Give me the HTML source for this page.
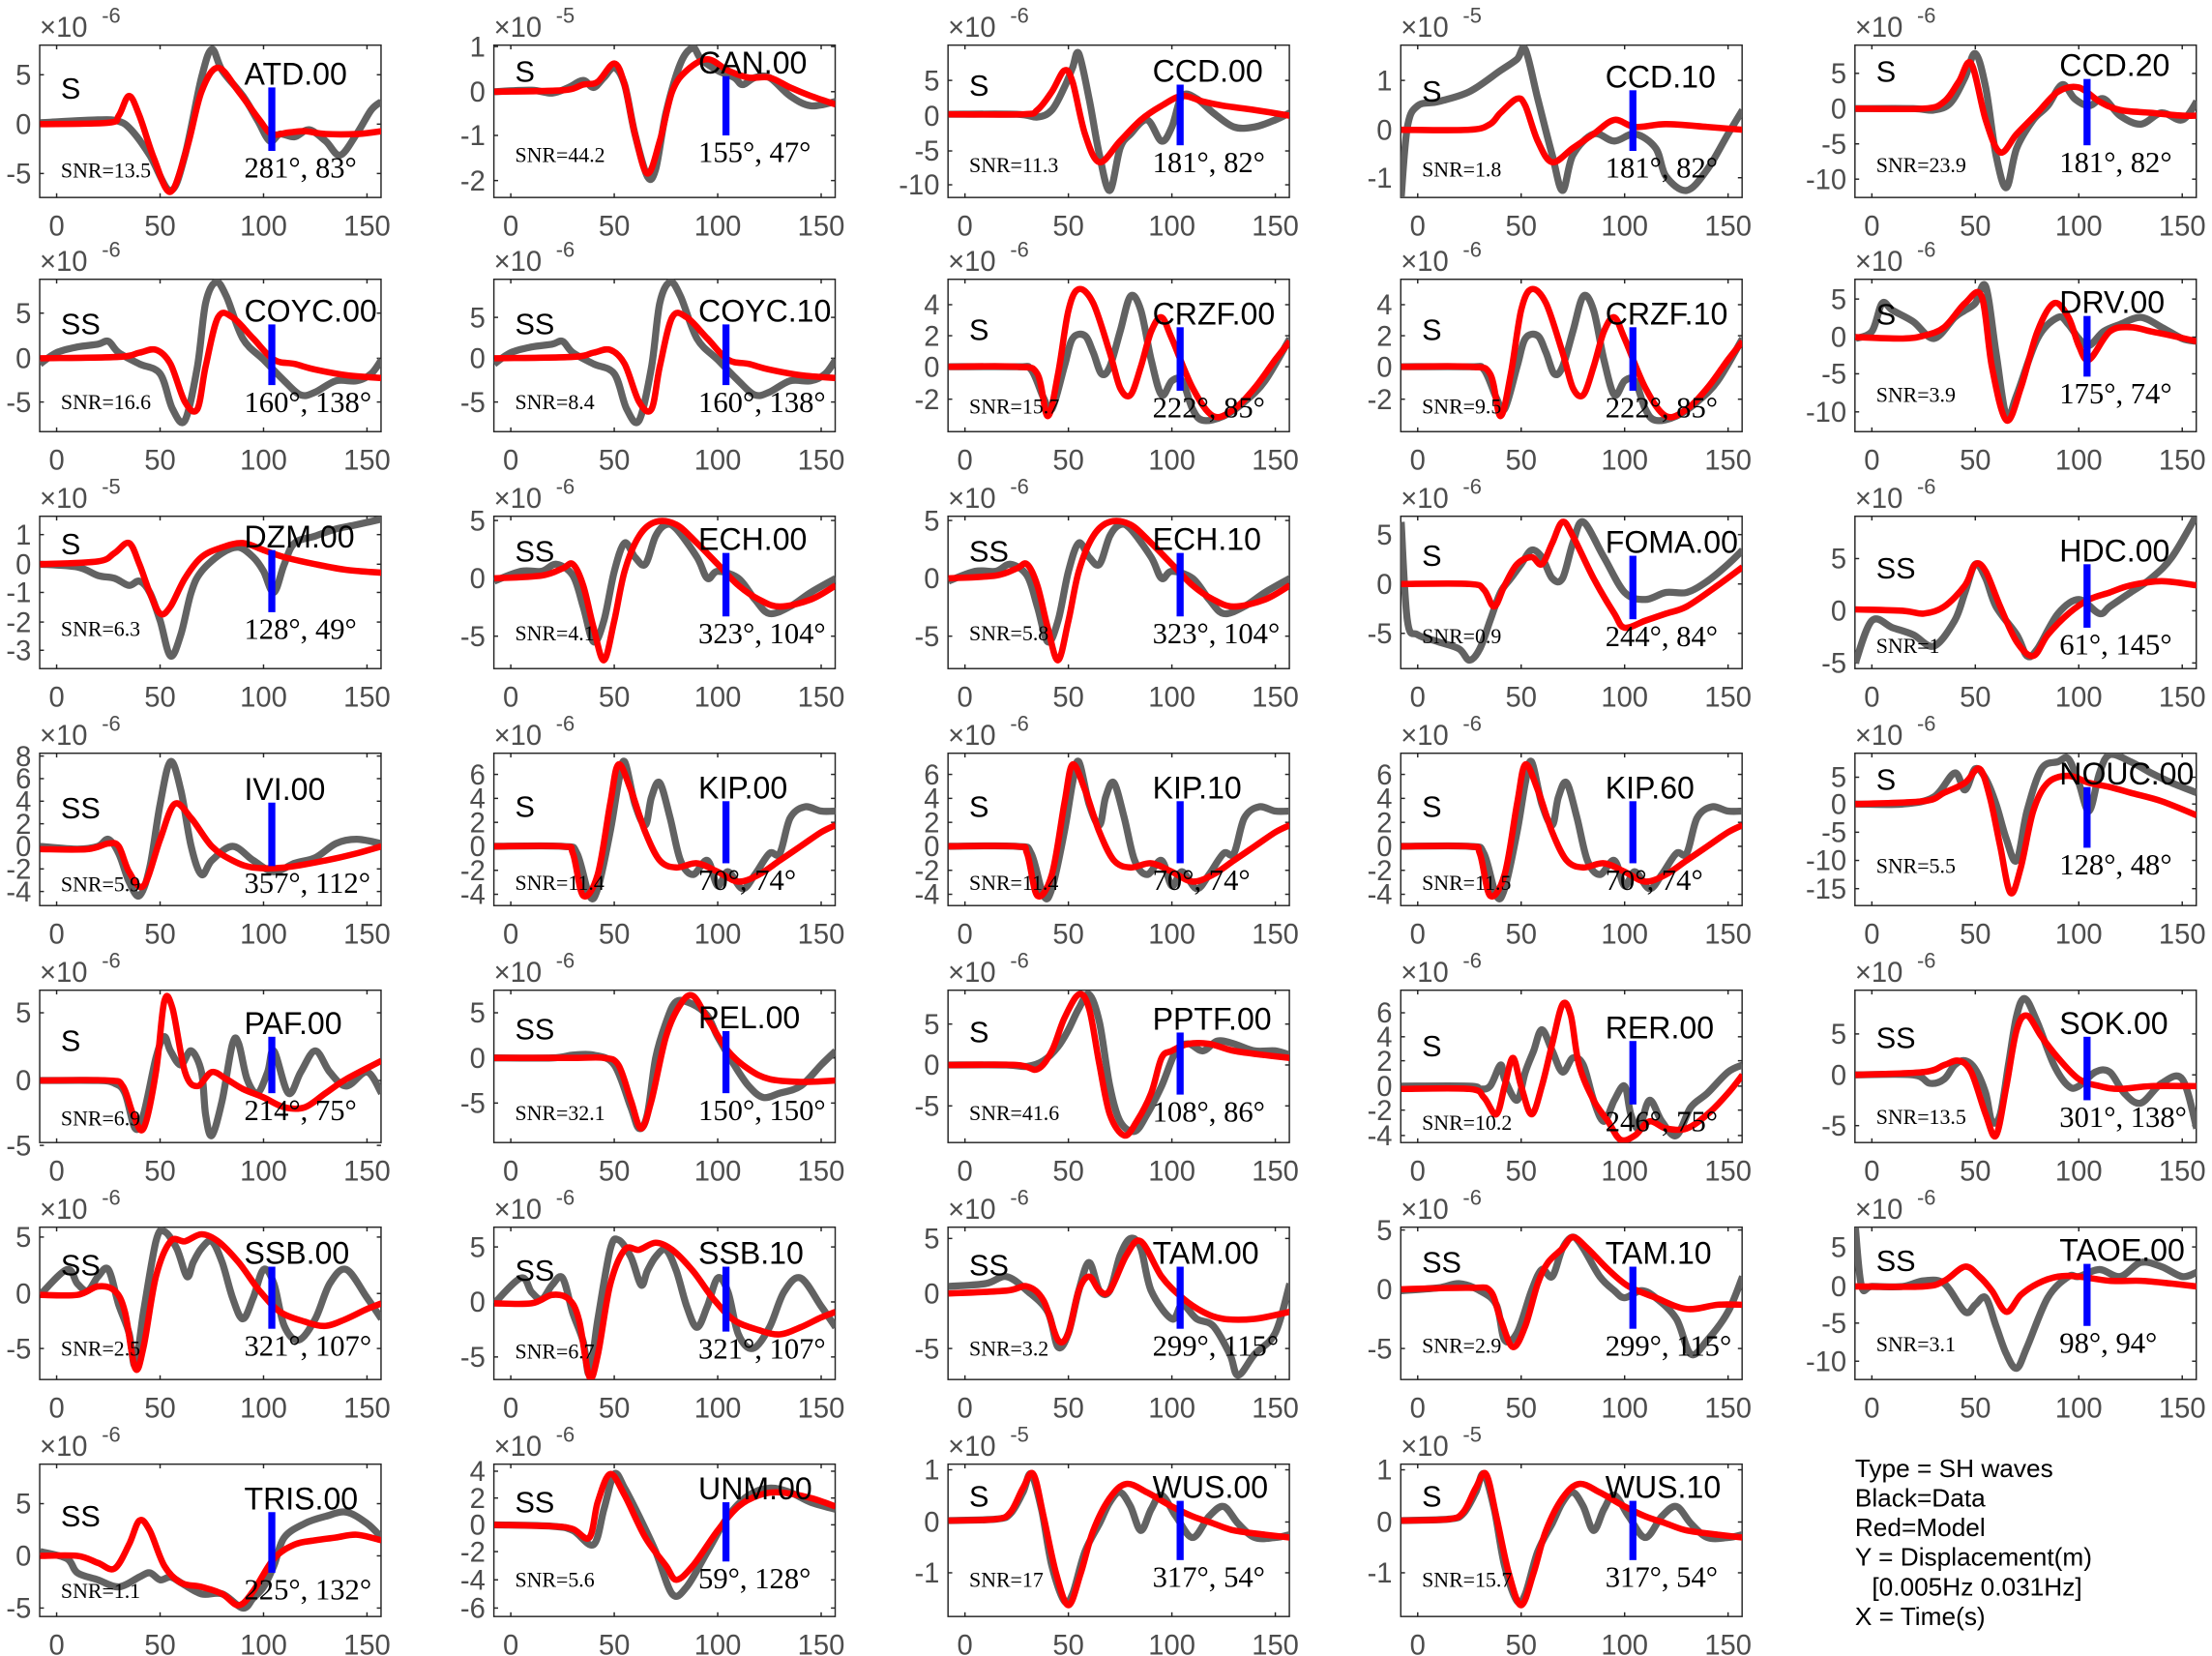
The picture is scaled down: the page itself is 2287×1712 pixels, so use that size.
<!DOCTYPE html>
<html><head><meta charset="utf-8"><style>
html,body{margin:0;padding:0;background:#fff;}
svg{display:block}
.tk{font-family:"Liberation Sans",sans-serif;font-size:20px;fill:#4d4d4d}
.st{font-family:"Liberation Sans",sans-serif;font-size:21px;fill:#000}
.sr{font-family:"Liberation Serif",serif;fill:#000}
</style></head><body>
<svg id="s" width="2287" height="1712" viewBox="0 0 1568 1174" xmlns="http://www.w3.org/2000/svg"></svg>
<script>
const cols=[28,350,672,993,1315],W=242,tops=[32,198,366,534,702,870,1038],H=108;
const P=[];
function add(o){P.push(o);}
// row1
add({e:-6,ph:'S',n:'ATD.00',snr:'13.5',a:'281°, 83°',tk:[[5,53],[0,88],[-5,123]],
g:[-8,87,20,85,30,86,36,92,45,110,55,135,62,110,70,55,75,35,80,50,90,68,97,85,103,100,108,95,115,97,122,92,130,100,137,110,145,95,152,78,157,72],
r:[-8,88,25,87,30,82,35,68,40,82,47,112,55,136,63,105,70,65,78,48,88,65,98,85,104,95,112,94,120,93,130,95,145,95,157,93],ly:52,py:62,sy:121,ay:119});
add({e:-5,ph:'S',n:'CAN.00',snr:'44.2',a:'155°, 47°',tk:[[1,33],[0,65],[-1,96],[-2,128]],
g:[-8,65,10,64,20,66,28,62,35,57,40,62,45,55,50,48,55,60,60,95,66,125,70,120,75,80,82,45,88,34,92,42,100,50,108,55,112,60,118,55,125,55,135,68,145,75,157,72],
r:[-8,65,25,64,35,60,42,58,50,45,55,60,60,95,66,123,72,100,78,65,85,50,95,42,105,50,115,55,125,55,135,62,145,68,157,74],ly:44,py:50,sy:110,ay:108});
add({e:-6,ph:'S',n:'CCD.00',snr:'11.3',a:'181°, 82°',tk:[[5,57],[0,82],[-5,107],[-10,131]],
g:[-8,81,25,81,35,83,42,78,48,62,52,48,55,38,60,70,65,110,70,135,75,105,80,95,88,85,95,100,100,90,105,68,112,70,120,80,130,90,140,90,150,85,157,80],
r:[-8,81,28,81,35,78,42,65,48,50,52,58,58,95,65,115,75,100,85,85,95,75,105,68,115,72,125,75,140,78,157,82],ly:50,py:60,sy:117,ay:115});
add({e:-5,ph:'S',n:'CCD.10',snr:'1.8',a:'181°, 82°',tk:[[1,57],[0,92],[-1,126]],
g:[-8,140,-5,90,0,75,10,72,25,65,40,50,48,42,52,35,58,70,65,110,70,135,75,110,85,95,95,100,105,95,115,105,120,125,130,135,140,120,150,95,157,78],
r:[-8,92,25,92,35,88,40,80,48,70,52,75,58,100,65,115,75,105,85,95,95,85,105,90,120,88,140,90,157,92],ly:54,py:64,sy:120,ay:119});
add({e:-6,ph:'S',n:'CCD.20',snr:'23.9',a:'181°, 82°',tk:[[5,52],[0,77],[-5,102],[-10,127]],
g:[-8,77,20,77,30,78,38,73,45,55,50,38,55,62,60,110,65,133,70,105,78,85,85,75,92,60,98,70,105,75,112,70,120,82,130,88,140,80,150,85,157,72],
r:[-8,77,25,77,35,72,42,58,48,45,55,85,62,108,70,95,80,80,90,65,100,62,110,72,120,78,135,80,150,82,157,82],ly:46,py:50,sy:117,ay:115});
// row2
const coyG=[-8,258,0,250,10,246,20,244,25,242,30,250,40,258,50,265,56,290,62,298,68,260,72,215,77,200,82,210,90,240,100,255,110,270,118,280,125,278,135,270,145,270,152,265,157,255];
const coyR=[-8,254,30,253,40,250,48,248,55,258,62,285,68,290,72,260,78,225,85,225,95,240,105,255,115,258,125,262,140,266,157,268];
add({e:-6,ph:'SS',n:'COYC.00',snr:'16.6',a:'160°, 138°',tk:[[5,222],[0,254],[-5,285]],g:coyG,r:coyR,ly:220,py:229,sy:285,ay:285});
add({e:-6,ph:'SS',n:'COYC.10',snr:'8.4',a:'160°, 138°',tk:[[5,225],[0,254],[-5,285]],g:coyG,r:coyR,ly:220,py:229,sy:285,ay:285});
const crG=[-8,260,25,260,32,262,38,282,42,290,48,260,52,240,58,238,62,250,66,265,70,260,75,235,80,210,85,220,90,255,95,280,100,270,105,270,110,290,115,298,125,295,135,285,145,270,157,240];
const crR=[-8,260,25,260,35,265,40,295,45,265,50,220,55,205,62,215,70,250,75,275,80,280,85,260,90,235,95,225,100,240,110,275,120,295,130,290,140,275,150,255,157,242];
const crT=[[4,216],[2,238],[0,260],[-2,283]];
add({e:-6,ph:'S',n:'CRZF.00',snr:'15.7',a:'222°, 85°',tk:crT,g:crG,r:crR,ly:222,py:233,sy:288,ay:289});
add({e:-6,ph:'S',n:'CRZF.10',snr:'9.5',a:'222°, 85°',tk:crT,g:crG,r:crR,ly:222,py:233,sy:288,ay:289});
add({e:-6,ph:'S',n:'DRV.00',snr:'3.9',a:'175°, 74°',tk:[[5,212],[0,239],[-5,265],[-10,292]],
g:[-8,240,0,235,5,215,10,220,20,228,30,240,40,225,45,220,50,215,55,203,60,250,65,295,70,280,80,240,90,225,95,230,100,240,105,245,112,235,120,230,130,225,140,232,150,240,157,242],
r:[-8,239,15,240,25,238,35,232,45,215,53,210,58,260,65,298,72,275,80,235,88,215,95,225,100,245,105,255,115,235,125,232,135,235,145,238,157,242],ly:214,py:222,sy:280,ay:279});
// row3
add({e:-5,ph:'S',n:'DZM.00',snr:'6.3',a:'128°, 49°',tk:[[1,379],[0,400],[-1,420],[-2,441],[-3,461]],
g:[-8,400,10,402,20,408,28,410,35,415,40,412,45,420,50,440,55,465,60,450,65,420,70,405,80,392,88,388,95,395,100,405,105,420,110,400,115,385,125,380,135,375,145,372,157,368],
r:[-8,400,20,398,28,392,35,385,40,400,45,420,50,435,55,430,62,410,70,395,80,388,90,385,100,390,110,395,125,400,140,404,157,406],ly:380,py:385,sy:446,ay:446});
const ecG=[-8,412,5,405,15,405,22,400,30,408,35,430,40,455,45,440,50,405,55,385,60,395,65,400,70,380,75,372,80,375,90,395,95,410,100,405,110,410,118,425,125,435,135,430,145,420,157,410];
const ecR=[-8,410,15,408,25,403,30,400,35,415,40,445,45,468,50,440,55,405,62,380,70,370,80,372,90,385,100,400,110,415,120,425,130,430,145,425,157,415];
const ecT=[[5,369],[0,410],[-5,451]];
add({e:-6,ph:'SS',n:'ECH.00',snr:'4.1',a:'323°, 104°',tk:ecT,g:ecG,r:ecR,ly:382,py:390,sy:449,ay:449});
add({e:-6,ph:'SS',n:'ECH.10',snr:'5.8',a:'323°, 104°',tk:ecT,g:ecG,r:ecR,ly:382,py:390,sy:449,ay:449});
add({e:-6,ph:'S',n:'FOMA.00',snr:'0.9',a:'244°, 84°',tk:[[5,379],[0,414],[-5,449]],
g:[-8,370,-5,440,0,450,10,455,20,460,25,468,30,460,35,440,40,420,45,410,50,400,55,390,60,395,65,410,70,410,75,385,80,370,90,395,100,420,110,425,120,420,130,420,140,412,150,400,157,390],
r:[-8,414,25,414,32,418,37,430,42,415,48,400,55,395,60,400,65,385,70,370,75,380,85,410,95,435,100,445,110,440,120,435,130,430,145,415,157,402],ly:384,py:393,sy:451,ay:451});
add({e:-6,ph:'SS',n:'HDC.00',snr:'1',a:'61°, 145°',tk:[[5,396],[0,433],[-5,470]],
g:[-8,470,0,440,10,445,20,450,30,458,40,440,45,420,50,400,55,410,60,430,70,450,75,465,80,460,90,435,100,425,110,435,115,430,125,420,135,410,145,395,157,365],
r:[-8,432,15,433,25,435,35,430,45,415,50,400,55,405,62,430,70,455,78,465,85,450,95,435,105,425,115,420,125,415,140,412,157,415],ly:390,py:402,sy:458,ay:457});
// row4
add({e:-6,ph:'SS',n:'IVI.00',snr:'5.9',a:'357°, 112°',tk:[[8,536],[6,552],[4,568],[2,584],[0,600],[-2,616],[-4,632]],
g:[-8,600,10,602,20,600,25,595,30,605,35,625,40,635,45,615,50,570,55,540,60,560,65,600,70,620,75,610,85,600,95,610,105,618,115,612,125,608,135,598,145,595,157,598],
r:[-8,602,15,602,25,598,30,600,35,618,42,628,50,595,57,570,65,580,75,600,85,610,95,615,110,615,130,610,145,605,157,600],ly:559,py:572,sy:627,ay:626});
const kG=[-8,600,25,600,32,605,38,635,42,630,48,590,52,555,55,540,60,570,65,585,68,565,72,555,77,580,82,610,88,620,95,610,100,628,105,618,112,630,118,620,125,605,130,605,135,580,142,572,150,575,157,575];
const kR=[-8,600,25,600,30,605,35,635,42,620,48,570,52,542,58,560,65,590,72,610,80,615,90,612,100,618,110,625,120,620,130,610,140,600,150,590,157,585];
const kT=[[6,549],[4,566],[2,583],[0,600],[-2,617],[-4,634]];
add({e:-6,ph:'S',n:'KIP.00',snr:'11.4',a:'70°, 74°',tk:kT,g:kG,r:kR,ly:558,py:571,sy:626,ay:624});
add({e:-6,ph:'S',n:'KIP.10',snr:'11.4',a:'70°, 74°',tk:kT,g:kG,r:kR,ly:558,py:571,sy:626,ay:624});
add({e:-6,ph:'S',n:'KIP.60',snr:'11.5',a:'70°, 74°',tk:kT,g:kG,r:kR,ly:558,py:571,sy:626,ay:624});
add({e:-6,ph:'S',n:'NOUC.00',snr:'5.5',a:'128°, 48°',tk:[[5,551],[0,570],[-5,590],[-10,610],[-15,630]],
g:[-8,570,15,570,30,565,40,548,45,560,50,545,55,552,60,570,65,595,70,610,75,575,82,545,90,540,95,538,100,555,105,575,110,548,115,535,125,540,135,548,145,555,157,562],
r:[-8,570,25,568,35,562,45,555,52,545,57,565,62,600,67,633,72,615,78,575,85,555,95,550,105,555,115,558,125,562,140,568,157,578],ly:548,py:552,sy:614,ay:613});
// row5
add({e:-6,ph:'S',n:'PAF.00',snr:'6.9',a:'214°, 75°',tk:[[5,718],[0,766],[-5,812]],
g:[-8,766,20,766,28,768,33,775,38,800,42,790,48,750,52,735,55,745,60,755,65,745,70,760,72,790,75,805,80,780,85,740,88,740,92,765,97,775,102,760,105,745,112,775,118,760,125,745,132,760,140,770,150,760,157,775],
r:[-8,766,25,766,32,770,37,790,42,800,48,760,52,710,56,715,62,760,68,770,75,760,82,765,90,772,100,778,110,785,120,785,130,775,140,765,157,752],ly:725,py:737,sy:793,ay:787});
add({e:-6,ph:'SS',n:'PEL.00',snr:'32.1',a:'150°, 150°',tk:[[5,718],[0,750],[-5,782]],
g:[-8,750,20,750,30,748,40,748,50,755,58,785,62,800,66,790,70,750,75,725,80,710,88,712,95,720,100,735,108,755,115,770,122,778,130,775,140,770,150,755,157,745],
r:[-8,750,30,750,45,750,52,755,58,780,63,800,68,780,75,735,82,712,88,706,95,722,105,745,115,758,125,765,140,767,157,766],ly:721,py:729,sy:789,ay:787});
add({e:-6,ph:'S',n:'PPTF.00',snr:'41.6',a:'108°, 86°',tk:[[5,726],[0,755],[-5,784]],
g:[-8,755,20,755,30,756,38,752,45,742,50,730,55,715,60,705,65,725,70,770,75,795,82,802,88,790,95,770,102,745,108,740,115,745,122,738,130,740,140,745,150,745,157,748],
r:[-8,755,25,755,35,758,42,745,48,722,55,705,60,715,65,755,70,790,77,805,83,795,90,775,95,750,100,745,108,740,118,740,130,745,145,748,157,750],ly:722,py:731,sy:789,ay:788});
add({e:-6,ph:'S',n:'RER.00',snr:'10.2',a:'246°, 75°',tk:[[6,718],[4,735],[2,752],[0,770],[-2,787],[-4,805]],
g:[-8,770,25,770,30,772,35,770,40,755,42,765,48,780,52,760,56,745,60,730,65,745,70,760,75,750,80,755,85,780,90,795,95,780,100,770,103,790,107,800,112,780,118,795,125,805,132,785,140,775,150,760,157,755],
r:[-8,772,25,772,32,778,38,790,42,770,46,750,50,770,55,790,60,770,65,740,70,712,74,720,78,755,85,780,92,795,98,808,105,805,112,795,120,800,130,800,140,790,150,775,157,762],ly:728,py:741,sy:796,ay:795});
add({e:-6,ph:'SS',n:'SOK.00',snr:'13.5',a:'301°, 138°',tk:[[5,733],[0,762],[-5,798]],
g:[-8,762,20,762,28,768,35,765,40,755,45,752,50,758,55,775,58,795,62,790,66,755,70,720,74,708,80,725,88,755,95,770,100,770,108,760,115,760,122,775,130,782,140,768,150,765,157,800],
r:[-8,762,25,760,35,755,42,752,48,760,55,790,60,805,65,770,70,730,75,720,82,735,90,750,100,765,110,770,120,772,135,770,157,770],ly:725,py:735,sy:792,ay:792});
// row6
const sG=[-8,918,5,900,10,910,15,915,20,905,25,900,30,925,35,945,38,968,42,930,48,880,52,873,58,885,63,905,66,895,70,885,75,880,80,895,85,920,90,935,95,920,100,900,105,910,110,940,117,950,125,935,132,910,140,900,150,920,157,935];
const sR=[-8,918,10,918,20,912,28,915,33,930,38,970,42,955,48,905,55,880,62,880,70,875,78,880,88,895,98,915,108,930,120,937,130,940,140,935,150,928,157,924];
add({e:-6,ph:'SS',n:'SSB.00',snr:'2.5',a:'321°, 107°',tk:[[5,877],[0,917],[-5,956]],g:sG,r:sR,ly:888,py:896,sy:956,ay:954});
add({e:-6,ph:'SS',n:'SSB.10',snr:'6.7',a:'321°, 107°',tk:[[5,884],[0,923],[-5,962]],g:sG,r:sR,dy:6,ly:888,py:900,sy:958,ay:956});
add({e:-6,ph:'SS',n:'TAM.00',snr:'3.2',a:'299°, 115°',tk:[[5,878],[0,917],[-5,956]],
g:[-8,912,10,910,20,905,30,915,40,930,45,955,50,945,55,915,60,895,65,915,70,915,75,890,80,878,85,885,90,915,100,935,105,925,112,935,120,940,128,960,132,975,140,960,150,945,157,910],
r:[-8,917,20,915,30,912,38,922,45,950,50,945,55,915,60,905,65,915,70,915,78,890,85,880,95,905,105,920,115,930,125,935,140,935,157,930],ly:888,py:896,sy:956,ay:954});
add({e:-6,ph:'SS',n:'TAM.10',snr:'2.9',a:'299°, 115°',tk:[[5,872],[0,914],[-5,956]],
g:[-8,915,10,913,20,910,30,915,38,925,42,950,48,945,55,915,60,900,65,905,70,885,75,877,80,885,88,905,95,915,100,920,108,915,115,920,125,935,132,960,140,950,150,930,157,905],
r:[-8,914,25,913,35,915,40,935,46,955,52,940,58,910,63,895,70,885,75,877,82,885,92,900,102,912,115,920,130,928,145,925,157,925],ly:888,py:894,sy:954,ay:954});
add({e:-6,ph:'SS',n:'TAOE.00',snr:'3.1',a:'98°, 94°',tk:[[5,884],[0,912],[-5,938],[-10,965]],
g:[-8,870,-5,912,0,912,15,912,25,908,35,910,45,930,50,925,55,920,60,940,65,960,70,970,75,955,85,920,95,905,100,905,110,900,120,905,130,895,140,898,150,905,157,902],
r:[-8,912,25,912,35,908,45,898,52,905,58,915,65,930,72,918,80,910,90,905,100,905,115,908,130,908,145,910,157,912],ly:886,py:893,sy:953,ay:952});
// row7
add({e:-6,ph:'SS',n:'TRIS.00',snr:'1.1',a:'225°, 132°',tk:[[5,1066],[0,1103],[-5,1140]],
g:[-8,1100,5,1105,10,1115,20,1120,30,1125,40,1118,45,1115,50,1120,55,1118,60,1122,70,1130,80,1130,90,1140,95,1133,100,1125,105,1110,110,1090,120,1080,130,1075,140,1072,150,1080,157,1090],
r:[-8,1103,10,1103,20,1108,28,1112,35,1095,40,1078,45,1085,52,1110,60,1122,70,1125,80,1130,88,1138,95,1128,105,1105,115,1095,125,1092,135,1090,145,1088,157,1092],ly:1062,py:1074,sy:1128,ay:1127});
add({e:-6,ph:'SS',n:'UNM.00',snr:'5.6',a:'59°, 128°',tk:[[4,1043],[2,1062],[0,1081],[-2,1100],[-4,1120],[-6,1140]],
g:[-8,1081,20,1082,30,1085,40,1095,45,1070,50,1045,55,1055,62,1075,70,1100,78,1130,85,1125,95,1100,105,1075,115,1060,125,1055,135,1058,145,1065,157,1070],
r:[-8,1081,20,1082,30,1084,38,1090,42,1065,48,1045,55,1060,65,1090,75,1110,80,1120,88,1110,100,1085,110,1068,120,1060,130,1058,145,1062,157,1068],ly:1055,py:1064,sy:1120,ay:1119});
const wG=[-8,1078,15,1077,22,1073,28,1058,32,1045,37,1070,42,1110,48,1135,52,1130,58,1100,65,1080,70,1065,75,1058,80,1068,85,1085,90,1070,95,1060,102,1075,110,1090,118,1075,125,1068,132,1080,140,1090,150,1090,157,1088];
const wR=[-8,1078,15,1077,22,1072,28,1055,33,1045,38,1075,44,1115,50,1138,56,1115,62,1085,70,1062,78,1052,88,1058,100,1068,110,1075,120,1080,130,1085,145,1088,157,1090];
add({e:-5,ph:'S',n:'WUS.00',snr:'17',a:'317°, 54°',tk:[[1,1042],[0,1079],[-1,1115]],g:wG,r:wR,ly:1054,py:1060,sy:1120,ay:1118});
add({e:-5,ph:'S',n:'WUS.10',snr:'15.7',a:'317°, 54°',tk:[[1,1042],[0,1079],[-1,1115]],g:wG,r:wR,ly:1054,py:1060,sy:1120,ay:1118});

function path(arr,L,dy){
  const p=[];for(let i=0;i<arr.length;i+=2)p.push([L+12+arr[i]*1.467,arr[i+1]+(dy||0)]);
  let d='M'+p[0][0].toFixed(1)+' '+p[0][1].toFixed(1);
  for(let i=0;i<p.length-1;i++){
    const p0=p[Math.max(i-1,0)],p1=p[i],p2=p[i+1],p3=p[Math.min(i+2,p.length-1)];
    const c1=[p1[0]+(p2[0]-p0[0])/6,p1[1]+(p2[1]-p0[1])/6],c2=[p2[0]-(p3[0]-p1[0])/6,p2[1]-(p3[1]-p1[1])/6];
    d+=` C${c1[0].toFixed(1)} ${c1[1].toFixed(1)} ${c2[0].toFixed(1)} ${c2[1].toFixed(1)} ${p2[0].toFixed(1)} ${p2[1].toFixed(1)}`;
  }
  return d;
}
let s='';
P.forEach((o,i)=>{
  const r=Math.floor(i/5),c=i%5,L=cols[c],T=tops[r],B=T+H,R=L+W;
  s+=`<clipPath id="c${i}"><rect x="${L}" y="${T}" width="${W}" height="${H}"/></clipPath>`;
  s+=`<rect x="${L}" y="${T}" width="${W}" height="${H}" fill="#fff" stroke="#262626" stroke-width="1"/>`;
  [0,50,100,150].forEach(t=>{const x=L+12+t*1.467;
    s+=`<line x1="${x}" y1="${B}" x2="${x}" y2="${B-3}" stroke="#262626"/><line x1="${x}" y1="${T}" x2="${x}" y2="${T+3}" stroke="#262626"/>`;
    s+=`<text class="tk" x="${x}" y="${B+27}" text-anchor="middle">${t}</text>`;});
  o.tk.forEach(([v,y])=>{
    s+=`<line x1="${L}" y1="${y}" x2="${L+3}" y2="${y}" stroke="#262626"/><line x1="${R}" y1="${y}" x2="${R-3}" y2="${y}" stroke="#262626"/>`;
    s+=`<text class="tk" x="${L-6}" y="${y+7}" text-anchor="end">${v}</text>`;});
  s+=`<text class="tk" x="${L}" y="${T-6}">×10</text><text class="tk" x="${L+44}" y="${T-16}" style="font-size:15px">${o.e}</text>`;
  s+=`<g clip-path="url(#c${i})"><path d="${path(o.g,L,o.dy)}" fill="none" stroke="#626262" stroke-width="5" stroke-linejoin="round"/>`;
  s+=`<path d="${path(o.r,L,o.dy)}" fill="none" stroke="#ff0000" stroke-width="4.5" stroke-linejoin="round"/></g>`;
  s+=`<text class="st" x="${L+15}" y="${o.py+8}">${o.ph}</text>`;
  s+=`<text class="st" x="${L+145}" y="${o.ly+8}" style="font-size:22px">${o.n}</text>`;
  s+=`<text class="sr" x="${L+15}" y="${o.sy+5}" style="font-size:15px">SNR=${o.snr}</text>`;
  s+=`<text class="sr" x="${L+145}" y="${o.ay+7}" style="font-size:21px">${o.a}</text>`;
  const bx=L+12+104*1.467;
  s+=`<rect x="${bx-2.5}" y="${o.ly+10}" width="5" height="${o.ay-o.ly-22}" fill="#0000ff"/>`;
});
const lg=[['Type = SH waves',1315,1047],['Black=Data',1315,1068],['Red=Model',1315,1089],['Y = Displacement(m)',1315,1110],['[0.005Hz 0.031Hz]',1327,1131],['X = Time(s)',1315,1152]];
lg.forEach(([t,x,y])=>{s+=`<text x="${x}" y="${y}" style="font-family:'Liberation Sans',sans-serif;font-size:18px;fill:#000">${t}</text>`;});
document.getElementById('s').innerHTML=s;
</script>
</body></html>
